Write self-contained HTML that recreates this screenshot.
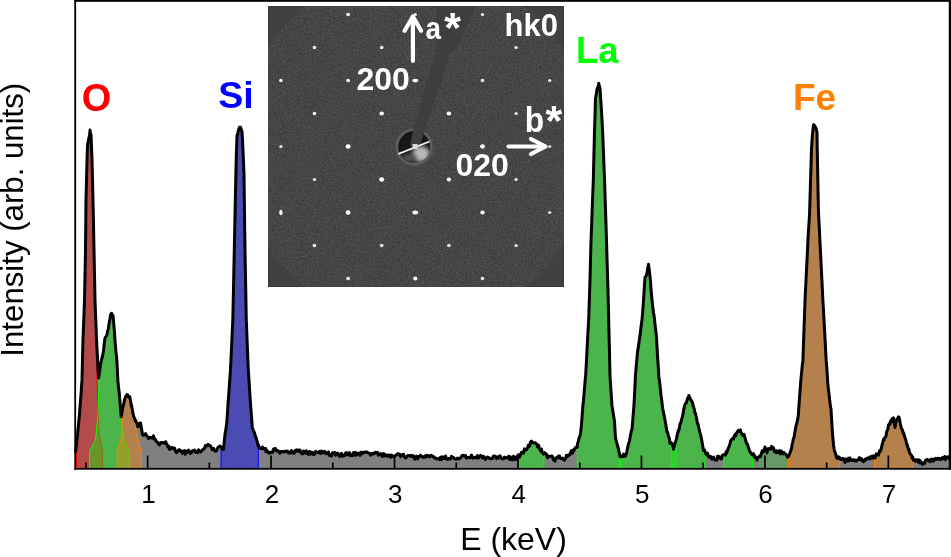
<!DOCTYPE html>
<html><head><meta charset="utf-8"><style>html,body{margin:0;padding:0;background:#fff;width:951px;height:557px;overflow:hidden}svg{display:block;will-change:transform}</style></head>
<body><svg width="951" height="557" viewBox="0 0 951 557" font-family="'Liberation Sans', sans-serif">
<defs>
<clipPath id="under"><path d="M75.5,452.5 L76.5,444.3 L77.5,435.2 L78.0,429.3 L78.5,424.6 L79.5,413.8 L80.5,400.4 L81.0,395.0 L81.5,386.6 L82.0,379.9 L82.5,359.1 L83.0,339.2 L83.5,326.5 L84.5,300.7 L85.5,249.2 L86.0,199.4 L86.5,180.3 L87.0,160.9 L87.5,145.2 L88.5,139.8 L89.5,135.0 L90.0,130.1 L90.5,133.7 L91.0,134.6 L91.5,146.8 L92.0,159.2 L92.5,179.6 L93.0,200.6 L93.5,224.4 L94.0,250.2 L94.5,275.3 L95.0,299.7 L95.5,313.4 L96.5,339.1 L97.5,359.1 L98.0,369.4 L98.5,376.1 L98.7,377.9 L99.5,371.4 L100.5,364.2 L101.5,360.0 L102.3,356.6 L102.5,356.4 L103.5,350.4 L104.5,341.5 L105.0,338.1 L105.5,337.1 L106.5,335.8 L107.0,334.5 L107.5,331.4 L108.5,328.4 L108.6,326.2 L109.5,321.1 L110.0,318.5 L110.5,315.3 L111.0,314.0 L111.5,313.3 L112.5,315.1 L113.0,315.5 L113.5,320.6 L114.0,326.8 L114.5,332.6 L115.0,340.4 L115.5,346.4 L115.8,350.2 L116.5,356.9 L117.0,362.7 L117.5,373.3 L117.9,380.7 L118.5,386.8 L119.5,395.2 L119.6,397.4 L120.5,407.5 L121.2,416.8 L121.5,415.4 L122.5,408.9 L123.3,405.2 L123.5,405.2 L124.5,400.0 L125.5,396.9 L126.5,395.3 L127.1,394.5 L127.5,394.7 L128.5,397.0 L129.5,396.5 L129.8,397.0 L130.5,400.8 L131.4,406.6 L131.5,405.0 L132.5,410.5 L133.0,413.2 L133.5,415.7 L134.5,418.6 L135.2,420.8 L135.5,419.9 L136.5,422.6 L137.3,424.4 L137.5,426.4 L138.5,426.7 L139.5,423.2 L140.5,422.9 L140.6,423.1 L141.5,428.4 L142.5,434.5 L143.5,435.3 L144.5,434.5 L145.5,433.6 L146.5,435.5 L146.8,435.7 L147.5,436.6 L148.5,438.5 L149.5,437.9 L150.5,437.3 L151.5,437.8 L152.5,438.2 L153.5,435.9 L154.5,439.2 L155.3,439.3 L155.5,440.1 L156.5,441.5 L157.5,442.3 L158.5,444.0 L158.7,443.1 L159.5,445.0 L160.5,442.8 L161.5,442.4 L162.5,442.9 L163.5,442.6 L164.5,443.2 L165.5,442.1 L165.6,441.7 L166.5,443.8 L167.5,445.5 L167.7,446.9 L168.5,445.8 L169.5,449.4 L170.5,449.1 L171.5,447.3 L172.5,447.7 L172.8,448.2 L173.5,448.6 L174.5,448.0 L175.5,451.3 L176.5,452.7 L177.5,451.1 L178.5,451.3 L179.0,449.8 L179.5,449.7 L180.5,450.9 L181.5,450.9 L182.5,453.4 L183.5,451.2 L184.5,450.5 L185.3,454.3 L185.5,453.1 L186.5,451.1 L187.5,452.2 L188.5,450.0 L189.5,451.6 L190.4,453.4 L190.5,453.3 L191.5,452.6 L192.5,450.7 L193.5,450.8 L194.5,450.0 L195.5,452.4 L196.5,451.8 L197.5,452.7 L197.9,451.0 L198.5,449.9 L199.5,451.5 L200.5,451.9 L201.5,450.9 L202.5,449.9 L203.5,449.3 L204.5,448.3 L205.4,445.6 L205.5,446.4 L206.5,446.0 L207.5,444.7 L208.5,444.6 L209.5,445.7 L210.5,445.8 L211.5,448.0 L212.5,449.8 L213.5,448.3 L214.5,450.4 L215.5,451.3 L216.5,450.9 L217.5,448.1 L218.5,446.8 L219.5,446.4 L220.0,446.1 L220.5,446.2 L221.5,448.0 L222.5,449.5 L223.5,449.2 L224.5,438.8 L225.0,434.3 L225.5,431.6 L226.5,424.7 L226.6,424.9 L227.5,412.1 L228.0,404.6 L228.5,397.7 L229.5,383.6 L230.5,369.4 L231.5,348.8 L232.5,326.2 L232.8,320.6 L233.5,288.3 L234.3,249.8 L234.5,239.8 L235.3,200.9 L235.5,191.6 L236.2,159.3 L236.5,150.3 L237.0,135.3 L237.5,134.6 L238.5,130.1 L239.5,127.3 L240.5,127.2 L241.5,130.5 L242.0,131.3 L242.5,140.2 L243.0,150.1 L243.5,161.8 L244.0,174.0 L244.5,213.4 L245.0,250.3 L245.5,277.0 L246.3,320.9 L246.5,324.9 L247.5,350.7 L248.3,370.7 L248.5,372.5 L249.5,388.0 L250.5,403.6 L251.5,416.5 L252.4,428.5 L252.5,428.3 L253.5,430.9 L254.5,432.6 L255.5,437.3 L255.7,436.5 L256.5,439.2 L257.5,442.9 L258.0,445.5 L258.5,444.9 L259.5,448.3 L260.4,448.3 L260.5,448.2 L261.5,448.7 L262.5,447.1 L263.5,449.0 L264.5,448.7 L265.5,448.3 L266.0,451.7 L266.5,449.9 L267.5,451.3 L268.5,453.1 L269.5,453.1 L270.0,452.3 L270.5,452.6 L271.5,452.1 L272.5,452.4 L273.5,449.1 L274.5,449.8 L275.0,448.4 L275.5,448.5 L276.5,451.0 L277.5,450.6 L278.5,451.1 L279.5,452.4 L280.0,453.3 L280.5,451.5 L281.5,451.9 L282.5,451.5 L283.5,451.4 L284.5,452.1 L285.5,451.1 L286.5,451.3 L287.5,451.1 L288.5,452.9 L289.5,452.1 L290.0,452.7 L290.5,453.1 L291.5,450.5 L292.5,451.4 L293.5,453.2 L294.5,453.1 L295.5,450.3 L296.5,449.9 L297.5,451.3 L298.5,450.0 L299.5,450.6 L300.0,450.1 L300.5,452.4 L301.5,453.3 L302.5,453.9 L303.5,451.0 L304.5,452.9 L305.5,453.0 L306.5,450.9 L307.5,453.6 L308.5,454.4 L309.5,451.5 L310.5,454.1 L311.5,452.2 L312.5,452.4 L313.5,454.5 L314.5,454.2 L315.5,451.4 L316.5,452.1 L317.5,452.6 L318.5,452.0 L319.5,451.3 L320.0,451.8 L320.5,453.5 L321.5,451.0 L322.5,452.9 L323.5,452.9 L324.5,451.2 L325.5,452.3 L326.5,453.8 L327.5,453.7 L328.5,451.9 L329.5,455.5 L330.5,455.3 L331.5,456.2 L332.5,452.8 L333.5,453.1 L334.5,452.3 L335.5,455.3 L336.5,453.8 L337.5,453.1 L338.5,454.3 L339.5,456.5 L340.0,456.5 L340.5,454.2 L341.5,453.4 L342.5,456.3 L343.5,455.3 L344.5,455.6 L345.5,453.1 L346.5,452.5 L347.5,454.9 L348.5,454.2 L349.5,452.6 L350.5,455.8 L351.5,455.0 L352.5,455.5 L353.5,452.6 L354.5,455.2 L355.5,452.3 L356.5,455.1 L357.5,453.8 L358.5,453.0 L359.5,453.8 L360.0,455.4 L360.5,452.9 L361.5,452.1 L362.5,453.6 L363.5,452.7 L364.5,452.1 L365.5,452.2 L366.5,451.9 L367.5,452.5 L368.5,453.1 L369.5,453.2 L370.5,455.1 L371.5,453.5 L372.5,454.2 L373.5,453.0 L374.5,453.5 L375.5,452.3 L376.5,453.1 L377.5,452.4 L378.5,455.2 L379.5,454.9 L380.5,453.5 L381.5,454.5 L382.5,456.5 L383.5,453.5 L384.5,456.0 L385.5,454.8 L386.5,455.0 L387.5,456.4 L388.5,454.9 L389.5,455.2 L390.0,456.0 L390.5,457.3 L391.5,455.0 L392.5,456.7 L393.5,456.5 L394.5,456.2 L395.5,455.3 L396.5,455.0 L397.5,453.8 L398.5,454.0 L399.5,453.9 L400.5,456.6 L401.5,455.1 L402.5,454.6 L403.5,454.3 L404.5,457.3 L405.5,458.0 L406.5,457.3 L407.5,455.7 L408.5,455.4 L409.5,455.6 L410.5,456.4 L411.5,455.3 L412.5,456.4 L413.5,455.9 L414.5,458.7 L415.0,459.2 L415.5,457.5 L416.5,456.1 L417.5,458.8 L418.5,456.6 L419.5,456.5 L420.5,455.1 L421.5,456.4 L422.5,457.0 L423.5,457.3 L424.5,456.1 L425.5,457.2 L426.5,455.4 L427.5,456.2 L428.5,455.6 L429.5,456.8 L430.5,455.6 L431.5,455.3 L432.5,456.5 L433.5,456.4 L434.5,457.9 L435.5,457.9 L436.5,458.8 L437.5,458.6 L438.5,458.8 L439.5,459.6 L440.0,457.7 L440.5,457.1 L441.5,459.7 L442.5,456.7 L443.5,458.5 L444.5,458.5 L445.5,456.0 L446.5,458.8 L447.5,459.4 L448.5,458.4 L449.5,458.7 L450.5,459.0 L451.5,456.3 L452.5,457.4 L453.5,457.5 L454.5,458.8 L455.5,458.9 L456.5,459.0 L457.5,458.0 L458.5,459.0 L459.5,458.3 L460.5,458.2 L461.5,456.3 L462.5,455.2 L463.5,455.4 L464.5,456.3 L465.5,455.4 L466.5,458.2 L467.5,457.5 L468.5,457.6 L469.5,457.6 L470.0,457.8 L470.5,457.1 L471.5,455.0 L472.5,458.0 L473.5,458.3 L474.5,457.3 L475.5,457.3 L476.5,457.9 L477.5,455.6 L478.5,458.0 L479.5,456.4 L480.5,455.4 L481.5,456.1 L482.5,458.1 L483.5,456.3 L484.5,458.2 L485.5,459.5 L486.5,457.8 L487.5,457.1 L488.5,457.4 L489.5,458.3 L490.5,458.8 L491.5,458.3 L492.5,458.4 L493.5,456.1 L494.5,456.1 L495.5,456.5 L496.5,458.6 L497.5,457.1 L498.5,458.0 L499.5,455.9 L500.0,455.8 L500.5,456.6 L501.5,458.4 L502.5,458.8 L503.5,458.7 L504.5,457.2 L505.5,457.9 L506.5,457.7 L507.5,457.7 L508.5,456.3 L509.5,459.3 L510.5,456.9 L511.5,459.7 L512.5,459.9 L513.5,456.2 L514.5,457.5 L515.0,459.1 L515.5,459.7 L516.5,457.3 L517.5,455.7 L518.5,454.8 L519.5,457.3 L520.0,454.5 L520.5,455.0 L521.5,452.2 L522.5,452.3 L523.5,453.1 L524.5,448.9 L525.0,450.6 L525.5,449.2 L526.5,449.6 L527.5,448.0 L528.5,445.0 L529.5,446.4 L530.0,444.6 L530.5,442.1 L531.5,441.1 L532.5,442.3 L533.5,443.0 L534.5,443.0 L535.5,442.8 L536.5,444.1 L537.0,444.4 L537.5,447.1 L538.5,445.2 L539.5,448.9 L540.5,450.8 L541.5,449.1 L542.0,452.5 L542.5,452.5 L543.5,454.1 L544.5,452.6 L545.5,453.4 L546.5,454.4 L547.5,457.7 L548.0,456.9 L548.5,456.0 L549.5,456.6 L550.5,456.4 L551.5,455.9 L552.5,456.5 L553.5,459.9 L554.5,458.6 L555.0,461.3 L555.5,458.5 L556.5,457.6 L557.5,457.9 L558.5,456.1 L559.5,456.0 L560.0,458.2 L560.5,458.4 L561.5,458.5 L562.5,458.1 L563.5,459.5 L564.5,460.2 L565.0,458.8 L565.5,458.8 L566.5,455.2 L567.5,456.6 L568.5,454.9 L569.5,455.1 L570.0,454.3 L570.5,452.5 L571.5,450.6 L572.5,453.3 L573.5,449.8 L574.0,450.5 L574.5,449.3 L575.5,447.5 L576.5,447.4 L577.0,447.5 L577.5,443.7 L578.5,440.9 L579.0,438.2 L579.5,437.2 L580.5,433.8 L581.5,424.1 L582.5,410.9 L583.0,404.4 L583.5,400.2 L584.5,388.0 L585.5,376.2 L585.6,376.4 L586.5,360.1 L587.0,349.9 L587.5,340.5 L588.5,322.9 L588.7,319.2 L589.5,295.1 L590.0,279.2 L590.5,260.4 L591.0,241.3 L591.5,228.0 L592.5,200.8 L593.3,180.5 L593.5,171.8 L594.4,135.4 L594.5,132.3 L595.5,98.8 L596.5,92.7 L597.0,89.1 L597.5,87.8 L598.5,85.6 L598.7,83.3 L599.5,86.5 L600.0,88.3 L600.5,96.5 L600.7,98.3 L601.5,111.4 L602.0,119.5 L602.5,129.5 L602.8,135.5 L603.5,153.8 L604.5,178.2 L604.6,180.7 L605.5,209.0 L606.5,240.9 L607.5,274.4 L608.0,290.8 L608.5,311.4 L608.7,320.2 L609.5,353.2 L610.0,375.4 L610.5,383.8 L611.5,398.3 L612.0,405.7 L612.5,409.1 L613.5,414.9 L614.5,421.3 L615.5,438.0 L616.5,441.8 L617.5,445.4 L618.5,449.4 L619.5,453.8 L620.0,456.1 L620.5,457.0 L621.5,456.5 L622.5,456.4 L623.5,454.1 L624.5,456.5 L625.0,454.5 L625.5,456.1 L626.5,453.3 L627.0,451.2 L627.5,448.2 L628.5,443.8 L629.0,442.7 L629.5,440.8 L630.5,434.8 L631.5,430.6 L632.0,429.2 L632.5,423.4 L633.5,410.9 L634.0,404.4 L634.5,395.4 L635.5,374.6 L636.5,363.4 L637.5,351.9 L638.5,346.1 L639.5,338.7 L640.0,335.8 L640.5,331.2 L641.5,323.2 L642.0,319.5 L642.5,314.3 L643.5,300.4 L644.5,284.9 L645.0,277.0 L645.5,277.0 L646.5,275.3 L647.5,269.7 L648.5,264.3 L649.5,271.9 L650.0,275.9 L650.5,282.0 L651.0,289.1 L651.5,294.7 L652.5,304.8 L653.5,312.5 L654.5,318.7 L654.6,320.6 L655.5,328.4 L656.3,335.0 L656.5,337.7 L657.5,355.4 L658.5,370.4 L658.8,376.2 L659.5,381.2 L660.5,390.0 L661.0,395.5 L661.5,398.3 L662.5,407.0 L663.0,410.1 L663.5,412.1 L664.5,417.3 L665.5,422.9 L666.5,428.8 L667.0,432.4 L667.5,432.0 L668.5,436.1 L669.5,439.3 L670.0,443.2 L670.5,442.1 L671.5,443.0 L672.5,444.8 L673.3,447.8 L673.5,449.2 L674.5,445.2 L675.0,442.9 L675.5,441.9 L676.5,438.6 L677.5,433.6 L678.3,430.4 L678.5,431.7 L679.5,427.7 L680.0,423.8 L680.5,423.7 L681.5,419.9 L682.4,417.0 L682.5,416.4 L683.5,411.1 L684.5,405.8 L685.0,404.6 L685.5,403.5 L686.5,402.4 L687.5,398.3 L688.5,397.6 L688.8,395.4 L689.5,396.8 L690.5,399.4 L691.3,400.6 L691.5,400.5 L692.5,402.9 L693.5,406.7 L694.5,409.7 L694.7,412.0 L695.5,413.5 L696.5,418.0 L697.5,423.9 L698.0,423.8 L698.5,426.3 L699.5,431.0 L700.5,434.5 L701.5,439.1 L702.5,444.5 L703.0,447.5 L703.5,450.6 L704.5,449.9 L705.5,452.8 L706.5,454.8 L707.5,453.8 L707.6,453.3 L708.5,456.9 L709.5,456.9 L710.5,456.3 L711.5,459.0 L712.5,458.6 L712.8,458.5 L713.5,457.1 L714.5,459.6 L715.5,460.3 L716.5,459.0 L717.0,459.9 L717.5,456.2 L718.5,456.2 L719.5,457.0 L720.5,458.8 L721.5,458.9 L722.0,456.5 L722.5,455.1 L723.5,454.8 L724.5,454.2 L725.5,455.1 L726.4,451.5 L726.5,453.3 L727.5,450.4 L728.5,447.9 L729.5,445.2 L730.4,442.4 L730.5,441.1 L731.5,439.6 L732.5,438.5 L733.5,438.9 L734.5,435.1 L735.5,433.9 L735.8,435.8 L736.5,433.4 L737.5,431.5 L738.5,430.3 L739.5,431.5 L740.5,429.9 L740.9,432.2 L741.5,433.2 L742.5,435.4 L743.5,434.6 L743.9,434.4 L744.5,436.0 L745.5,439.8 L746.5,443.3 L746.6,442.9 L747.5,444.5 L748.5,447.4 L749.3,450.2 L749.5,450.8 L750.5,452.4 L751.5,454.1 L752.5,454.6 L753.5,453.5 L754.0,456.7 L754.5,455.5 L755.5,457.5 L756.5,458.1 L757.0,460.1 L757.5,457.8 L758.5,457.1 L759.5,456.4 L760.0,455.7 L760.5,456.8 L761.5,453.5 L762.0,451.3 L762.5,450.6 L763.5,451.8 L764.5,448.9 L765.0,447.0 L765.5,449.8 L766.5,450.9 L767.0,452.9 L767.5,448.9 L768.5,448.6 L769.5,448.9 L770.0,448.6 L770.5,449.3 L771.5,446.4 L772.5,447.6 L773.0,447.3 L773.5,447.8 L774.5,451.6 L775.5,451.1 L776.0,452.6 L776.5,450.7 L777.5,452.6 L778.5,451.4 L779.5,450.6 L780.0,452.7 L780.5,453.9 L781.5,451.1 L782.5,453.1 L783.5,453.9 L784.0,452.5 L784.5,453.5 L785.5,453.9 L786.5,455.2 L787.0,456.1 L787.5,457.1 L788.5,456.6 L789.5,453.9 L790.0,452.9 L790.5,451.6 L791.5,448.5 L792.0,445.2 L792.5,443.0 L793.5,438.1 L794.0,437.5 L794.5,434.7 L795.5,428.6 L796.4,424.3 L796.5,424.6 L797.5,419.9 L798.3,415.9 L798.5,412.2 L799.5,398.2 L800.5,385.2 L800.8,380.4 L801.5,373.3 L802.5,363.5 L802.9,360.9 L803.5,343.0 L804.5,315.8 L805.2,296.0 L805.5,290.0 L806.5,270.3 L807.5,250.1 L808.0,238.5 L808.5,230.3 L809.5,215.5 L810.5,181.7 L811.5,148.7 L811.6,147.2 L812.5,133.6 L812.6,133.0 L813.5,125.2 L813.7,124.6 L814.5,125.6 L815.5,127.3 L816.5,130.0 L817.0,132.5 L817.2,146.7 L817.5,163.1 L818.4,209.2 L818.5,212.3 L819.5,232.4 L819.8,238.8 L820.5,252.0 L821.5,272.1 L822.5,292.4 L822.7,297.2 L823.5,310.1 L824.5,329.0 L825.5,347.9 L826.2,360.9 L826.5,363.8 L827.5,378.4 L827.6,381.5 L828.5,390.0 L829.5,398.4 L830.2,404.1 L830.5,407.1 L831.0,408.9 L831.5,417.9 L832.5,433.9 L833.5,444.5 L834.0,448.5 L834.5,451.1 L835.5,453.2 L836.0,455.2 L836.5,457.4 L837.5,458.6 L838.5,456.9 L839.5,457.6 L840.0,458.8 L840.5,459.5 L841.5,459.3 L842.5,458.4 L843.5,459.0 L844.5,461.3 L845.0,462.4 L845.5,459.0 L846.5,460.3 L847.5,461.1 L848.5,458.1 L849.5,460.7 L850.0,458.0 L850.5,459.7 L851.5,460.0 L852.5,460.6 L853.5,459.6 L854.5,460.1 L855.0,461.0 L855.5,460.3 L856.5,460.9 L857.5,459.9 L858.5,459.5 L859.5,457.5 L860.0,459.6 L860.5,459.5 L861.5,458.7 L862.5,461.0 L863.5,461.6 L864.5,460.6 L865.0,459.4 L865.5,460.2 L866.5,458.5 L867.5,458.0 L868.5,458.8 L869.5,457.2 L870.0,458.3 L870.5,458.6 L871.5,456.3 L872.5,458.1 L873.5,455.7 L874.5,457.7 L875.0,458.0 L875.5,456.6 L876.5,453.8 L877.5,454.5 L878.0,453.8 L878.5,455.3 L879.5,450.7 L880.5,451.2 L881.5,447.7 L882.0,444.9 L882.5,443.7 L883.5,439.4 L884.0,440.1 L884.5,438.0 L885.5,437.2 L886.0,436.3 L886.5,432.2 L887.5,429.8 L888.0,428.5 L888.5,425.1 L889.5,423.5 L890.0,424.2 L890.5,421.1 L891.5,421.8 L892.0,418.7 L892.5,420.3 L893.5,417.8 L894.5,423.3 L895.0,427.5 L895.5,423.3 L896.5,420.2 L897.0,419.3 L897.5,418.5 L898.5,416.9 L899.0,417.1 L899.5,419.3 L900.5,425.1 L901.0,426.5 L901.5,428.7 L902.5,429.9 L903.0,433.0 L903.5,432.6 L904.5,436.1 L905.0,437.9 L905.5,438.8 L906.5,443.4 L907.0,444.3 L907.5,445.9 L908.5,449.9 L909.0,449.4 L909.5,452.7 L910.5,454.2 L911.5,455.4 L912.0,458.0 L912.5,456.6 L913.5,460.3 L914.5,460.1 L915.0,459.6 L915.5,461.3 L916.5,460.6 L917.5,459.7 L918.5,462.2 L919.5,460.1 L920.0,463.0 L920.5,461.2 L921.5,462.7 L922.5,464.4 L923.5,463.1 L924.5,463.4 L925.0,462.1 L925.5,460.3 L926.5,459.7 L927.5,459.6 L928.5,461.0 L929.5,460.0 L930.0,460.0 L930.5,461.7 L931.5,459.1 L932.5,459.3 L933.5,461.2 L934.5,459.1 L935.5,458.4 L936.5,459.5 L937.5,458.4 L938.5,459.0 L939.5,458.3 L940.5,459.4 L941.5,459.3 L942.5,457.5 L943.5,458.7 L944.5,458.0 L944.8,456.5 L945.5,459.7 L946.5,457.5 L947.5,456.9 L948.5,456.7 L949.5,459.0 L950.5,460.5 L951.0,460.4 L951,468.5 L75.5,468.5 Z"/></clipPath>
<clipPath id="insetclip"><rect x="268" y="6" width="296" height="281"/></clipPath>
<clipPath id="circclip"><circle cx="415" cy="146.5" r="178"/></clipPath>
<filter id="noise" x="0" y="0" width="100%" height="100%" color-interpolation-filters="sRGB">
 <feTurbulence type="fractalNoise" baseFrequency="0.75" numOctaves="2" seed="4"/>
 <feColorMatrix type="matrix" values="0.22 0 0 0 0.1645 0.22 0 0 0 0.1645 0.22 0 0 0 0.1645 0 0 0 0 1"/>
 <feGaussianBlur stdDeviation="0.35"/>
</filter>
<filter id="blur1" x="-1" y="-1" width="3" height="3"><feGaussianBlur stdDeviation="0.6"/></filter>
<filter id="blur2" x="-1" y="-1" width="3" height="3"><feGaussianBlur stdDeviation="2"/></filter>
</defs>
<rect width="951" height="557" fill="#fff"/>
<path d="M75.5,452.5 L76.5,444.3 L77.5,435.2 L78.0,429.3 L78.5,424.6 L79.5,413.8 L80.5,400.4 L81.0,395.0 L81.5,386.6 L82.0,379.9 L82.5,359.1 L83.0,339.2 L83.5,326.5 L84.5,300.7 L85.5,249.2 L86.0,199.4 L86.5,180.3 L87.0,160.9 L87.5,145.2 L88.5,139.8 L89.5,135.0 L90.0,130.1 L90.5,133.7 L91.0,134.6 L91.5,146.8 L92.0,159.2 L92.5,179.6 L93.0,200.6 L93.5,224.4 L94.0,250.2 L94.5,275.3 L95.0,299.7 L95.5,313.4 L96.5,339.1 L97.5,359.1 L98.0,369.4 L98.5,376.1 L98.7,377.9 L99.5,371.4 L100.5,364.2 L101.5,360.0 L102.3,356.6 L102.5,356.4 L103.5,350.4 L104.5,341.5 L105.0,338.1 L105.5,337.1 L106.5,335.8 L107.0,334.5 L107.5,331.4 L108.5,328.4 L108.6,326.2 L109.5,321.1 L110.0,318.5 L110.5,315.3 L111.0,314.0 L111.5,313.3 L112.5,315.1 L113.0,315.5 L113.5,320.6 L114.0,326.8 L114.5,332.6 L115.0,340.4 L115.5,346.4 L115.8,350.2 L116.5,356.9 L117.0,362.7 L117.5,373.3 L117.9,380.7 L118.5,386.8 L119.5,395.2 L119.6,397.4 L120.5,407.5 L121.2,416.8 L121.5,415.4 L122.5,408.9 L123.3,405.2 L123.5,405.2 L124.5,400.0 L125.5,396.9 L126.5,395.3 L127.1,394.5 L127.5,394.7 L128.5,397.0 L129.5,396.5 L129.8,397.0 L130.5,400.8 L131.4,406.6 L131.5,405.0 L132.5,410.5 L133.0,413.2 L133.5,415.7 L134.5,418.6 L135.2,420.8 L135.5,419.9 L136.5,422.6 L137.3,424.4 L137.5,426.4 L138.5,426.7 L139.5,423.2 L140.5,422.9 L140.6,423.1 L141.5,428.4 L142.5,434.5 L143.5,435.3 L144.5,434.5 L145.5,433.6 L146.5,435.5 L146.8,435.7 L147.5,436.6 L148.5,438.5 L149.5,437.9 L150.5,437.3 L151.5,437.8 L152.5,438.2 L153.5,435.9 L154.5,439.2 L155.3,439.3 L155.5,440.1 L156.5,441.5 L157.5,442.3 L158.5,444.0 L158.7,443.1 L159.5,445.0 L160.5,442.8 L161.5,442.4 L162.5,442.9 L163.5,442.6 L164.5,443.2 L165.5,442.1 L165.6,441.7 L166.5,443.8 L167.5,445.5 L167.7,446.9 L168.5,445.8 L169.5,449.4 L170.5,449.1 L171.5,447.3 L172.5,447.7 L172.8,448.2 L173.5,448.6 L174.5,448.0 L175.5,451.3 L176.5,452.7 L177.5,451.1 L178.5,451.3 L179.0,449.8 L179.5,449.7 L180.5,450.9 L181.5,450.9 L182.5,453.4 L183.5,451.2 L184.5,450.5 L185.3,454.3 L185.5,453.1 L186.5,451.1 L187.5,452.2 L188.5,450.0 L189.5,451.6 L190.4,453.4 L190.5,453.3 L191.5,452.6 L192.5,450.7 L193.5,450.8 L194.5,450.0 L195.5,452.4 L196.5,451.8 L197.5,452.7 L197.9,451.0 L198.5,449.9 L199.5,451.5 L200.5,451.9 L201.5,450.9 L202.5,449.9 L203.5,449.3 L204.5,448.3 L205.4,445.6 L205.5,446.4 L206.5,446.0 L207.5,444.7 L208.5,444.6 L209.5,445.7 L210.5,445.8 L211.5,448.0 L212.5,449.8 L213.5,448.3 L214.5,450.4 L215.5,451.3 L216.5,450.9 L217.5,448.1 L218.5,446.8 L219.5,446.4 L220.0,446.1 L220.5,446.2 L221.5,448.0 L222.5,449.5 L223.5,449.2 L224.5,438.8 L225.0,434.3 L225.5,431.6 L226.5,424.7 L226.6,424.9 L227.5,412.1 L228.0,404.6 L228.5,397.7 L229.5,383.6 L230.5,369.4 L231.5,348.8 L232.5,326.2 L232.8,320.6 L233.5,288.3 L234.3,249.8 L234.5,239.8 L235.3,200.9 L235.5,191.6 L236.2,159.3 L236.5,150.3 L237.0,135.3 L237.5,134.6 L238.5,130.1 L239.5,127.3 L240.5,127.2 L241.5,130.5 L242.0,131.3 L242.5,140.2 L243.0,150.1 L243.5,161.8 L244.0,174.0 L244.5,213.4 L245.0,250.3 L245.5,277.0 L246.3,320.9 L246.5,324.9 L247.5,350.7 L248.3,370.7 L248.5,372.5 L249.5,388.0 L250.5,403.6 L251.5,416.5 L252.4,428.5 L252.5,428.3 L253.5,430.9 L254.5,432.6 L255.5,437.3 L255.7,436.5 L256.5,439.2 L257.5,442.9 L258.0,445.5 L258.5,444.9 L259.5,448.3 L260.4,448.3 L260.5,448.2 L261.5,448.7 L262.5,447.1 L263.5,449.0 L264.5,448.7 L265.5,448.3 L266.0,451.7 L266.5,449.9 L267.5,451.3 L268.5,453.1 L269.5,453.1 L270.0,452.3 L270.5,452.6 L271.5,452.1 L272.5,452.4 L273.5,449.1 L274.5,449.8 L275.0,448.4 L275.5,448.5 L276.5,451.0 L277.5,450.6 L278.5,451.1 L279.5,452.4 L280.0,453.3 L280.5,451.5 L281.5,451.9 L282.5,451.5 L283.5,451.4 L284.5,452.1 L285.5,451.1 L286.5,451.3 L287.5,451.1 L288.5,452.9 L289.5,452.1 L290.0,452.7 L290.5,453.1 L291.5,450.5 L292.5,451.4 L293.5,453.2 L294.5,453.1 L295.5,450.3 L296.5,449.9 L297.5,451.3 L298.5,450.0 L299.5,450.6 L300.0,450.1 L300.5,452.4 L301.5,453.3 L302.5,453.9 L303.5,451.0 L304.5,452.9 L305.5,453.0 L306.5,450.9 L307.5,453.6 L308.5,454.4 L309.5,451.5 L310.5,454.1 L311.5,452.2 L312.5,452.4 L313.5,454.5 L314.5,454.2 L315.5,451.4 L316.5,452.1 L317.5,452.6 L318.5,452.0 L319.5,451.3 L320.0,451.8 L320.5,453.5 L321.5,451.0 L322.5,452.9 L323.5,452.9 L324.5,451.2 L325.5,452.3 L326.5,453.8 L327.5,453.7 L328.5,451.9 L329.5,455.5 L330.5,455.3 L331.5,456.2 L332.5,452.8 L333.5,453.1 L334.5,452.3 L335.5,455.3 L336.5,453.8 L337.5,453.1 L338.5,454.3 L339.5,456.5 L340.0,456.5 L340.5,454.2 L341.5,453.4 L342.5,456.3 L343.5,455.3 L344.5,455.6 L345.5,453.1 L346.5,452.5 L347.5,454.9 L348.5,454.2 L349.5,452.6 L350.5,455.8 L351.5,455.0 L352.5,455.5 L353.5,452.6 L354.5,455.2 L355.5,452.3 L356.5,455.1 L357.5,453.8 L358.5,453.0 L359.5,453.8 L360.0,455.4 L360.5,452.9 L361.5,452.1 L362.5,453.6 L363.5,452.7 L364.5,452.1 L365.5,452.2 L366.5,451.9 L367.5,452.5 L368.5,453.1 L369.5,453.2 L370.5,455.1 L371.5,453.5 L372.5,454.2 L373.5,453.0 L374.5,453.5 L375.5,452.3 L376.5,453.1 L377.5,452.4 L378.5,455.2 L379.5,454.9 L380.5,453.5 L381.5,454.5 L382.5,456.5 L383.5,453.5 L384.5,456.0 L385.5,454.8 L386.5,455.0 L387.5,456.4 L388.5,454.9 L389.5,455.2 L390.0,456.0 L390.5,457.3 L391.5,455.0 L392.5,456.7 L393.5,456.5 L394.5,456.2 L395.5,455.3 L396.5,455.0 L397.5,453.8 L398.5,454.0 L399.5,453.9 L400.5,456.6 L401.5,455.1 L402.5,454.6 L403.5,454.3 L404.5,457.3 L405.5,458.0 L406.5,457.3 L407.5,455.7 L408.5,455.4 L409.5,455.6 L410.5,456.4 L411.5,455.3 L412.5,456.4 L413.5,455.9 L414.5,458.7 L415.0,459.2 L415.5,457.5 L416.5,456.1 L417.5,458.8 L418.5,456.6 L419.5,456.5 L420.5,455.1 L421.5,456.4 L422.5,457.0 L423.5,457.3 L424.5,456.1 L425.5,457.2 L426.5,455.4 L427.5,456.2 L428.5,455.6 L429.5,456.8 L430.5,455.6 L431.5,455.3 L432.5,456.5 L433.5,456.4 L434.5,457.9 L435.5,457.9 L436.5,458.8 L437.5,458.6 L438.5,458.8 L439.5,459.6 L440.0,457.7 L440.5,457.1 L441.5,459.7 L442.5,456.7 L443.5,458.5 L444.5,458.5 L445.5,456.0 L446.5,458.8 L447.5,459.4 L448.5,458.4 L449.5,458.7 L450.5,459.0 L451.5,456.3 L452.5,457.4 L453.5,457.5 L454.5,458.8 L455.5,458.9 L456.5,459.0 L457.5,458.0 L458.5,459.0 L459.5,458.3 L460.5,458.2 L461.5,456.3 L462.5,455.2 L463.5,455.4 L464.5,456.3 L465.5,455.4 L466.5,458.2 L467.5,457.5 L468.5,457.6 L469.5,457.6 L470.0,457.8 L470.5,457.1 L471.5,455.0 L472.5,458.0 L473.5,458.3 L474.5,457.3 L475.5,457.3 L476.5,457.9 L477.5,455.6 L478.5,458.0 L479.5,456.4 L480.5,455.4 L481.5,456.1 L482.5,458.1 L483.5,456.3 L484.5,458.2 L485.5,459.5 L486.5,457.8 L487.5,457.1 L488.5,457.4 L489.5,458.3 L490.5,458.8 L491.5,458.3 L492.5,458.4 L493.5,456.1 L494.5,456.1 L495.5,456.5 L496.5,458.6 L497.5,457.1 L498.5,458.0 L499.5,455.9 L500.0,455.8 L500.5,456.6 L501.5,458.4 L502.5,458.8 L503.5,458.7 L504.5,457.2 L505.5,457.9 L506.5,457.7 L507.5,457.7 L508.5,456.3 L509.5,459.3 L510.5,456.9 L511.5,459.7 L512.5,459.9 L513.5,456.2 L514.5,457.5 L515.0,459.1 L515.5,459.7 L516.5,457.3 L517.5,455.7 L518.5,454.8 L519.5,457.3 L520.0,454.5 L520.5,455.0 L521.5,452.2 L522.5,452.3 L523.5,453.1 L524.5,448.9 L525.0,450.6 L525.5,449.2 L526.5,449.6 L527.5,448.0 L528.5,445.0 L529.5,446.4 L530.0,444.6 L530.5,442.1 L531.5,441.1 L532.5,442.3 L533.5,443.0 L534.5,443.0 L535.5,442.8 L536.5,444.1 L537.0,444.4 L537.5,447.1 L538.5,445.2 L539.5,448.9 L540.5,450.8 L541.5,449.1 L542.0,452.5 L542.5,452.5 L543.5,454.1 L544.5,452.6 L545.5,453.4 L546.5,454.4 L547.5,457.7 L548.0,456.9 L548.5,456.0 L549.5,456.6 L550.5,456.4 L551.5,455.9 L552.5,456.5 L553.5,459.9 L554.5,458.6 L555.0,461.3 L555.5,458.5 L556.5,457.6 L557.5,457.9 L558.5,456.1 L559.5,456.0 L560.0,458.2 L560.5,458.4 L561.5,458.5 L562.5,458.1 L563.5,459.5 L564.5,460.2 L565.0,458.8 L565.5,458.8 L566.5,455.2 L567.5,456.6 L568.5,454.9 L569.5,455.1 L570.0,454.3 L570.5,452.5 L571.5,450.6 L572.5,453.3 L573.5,449.8 L574.0,450.5 L574.5,449.3 L575.5,447.5 L576.5,447.4 L577.0,447.5 L577.5,443.7 L578.5,440.9 L579.0,438.2 L579.5,437.2 L580.5,433.8 L581.5,424.1 L582.5,410.9 L583.0,404.4 L583.5,400.2 L584.5,388.0 L585.5,376.2 L585.6,376.4 L586.5,360.1 L587.0,349.9 L587.5,340.5 L588.5,322.9 L588.7,319.2 L589.5,295.1 L590.0,279.2 L590.5,260.4 L591.0,241.3 L591.5,228.0 L592.5,200.8 L593.3,180.5 L593.5,171.8 L594.4,135.4 L594.5,132.3 L595.5,98.8 L596.5,92.7 L597.0,89.1 L597.5,87.8 L598.5,85.6 L598.7,83.3 L599.5,86.5 L600.0,88.3 L600.5,96.5 L600.7,98.3 L601.5,111.4 L602.0,119.5 L602.5,129.5 L602.8,135.5 L603.5,153.8 L604.5,178.2 L604.6,180.7 L605.5,209.0 L606.5,240.9 L607.5,274.4 L608.0,290.8 L608.5,311.4 L608.7,320.2 L609.5,353.2 L610.0,375.4 L610.5,383.8 L611.5,398.3 L612.0,405.7 L612.5,409.1 L613.5,414.9 L614.5,421.3 L615.5,438.0 L616.5,441.8 L617.5,445.4 L618.5,449.4 L619.5,453.8 L620.0,456.1 L620.5,457.0 L621.5,456.5 L622.5,456.4 L623.5,454.1 L624.5,456.5 L625.0,454.5 L625.5,456.1 L626.5,453.3 L627.0,451.2 L627.5,448.2 L628.5,443.8 L629.0,442.7 L629.5,440.8 L630.5,434.8 L631.5,430.6 L632.0,429.2 L632.5,423.4 L633.5,410.9 L634.0,404.4 L634.5,395.4 L635.5,374.6 L636.5,363.4 L637.5,351.9 L638.5,346.1 L639.5,338.7 L640.0,335.8 L640.5,331.2 L641.5,323.2 L642.0,319.5 L642.5,314.3 L643.5,300.4 L644.5,284.9 L645.0,277.0 L645.5,277.0 L646.5,275.3 L647.5,269.7 L648.5,264.3 L649.5,271.9 L650.0,275.9 L650.5,282.0 L651.0,289.1 L651.5,294.7 L652.5,304.8 L653.5,312.5 L654.5,318.7 L654.6,320.6 L655.5,328.4 L656.3,335.0 L656.5,337.7 L657.5,355.4 L658.5,370.4 L658.8,376.2 L659.5,381.2 L660.5,390.0 L661.0,395.5 L661.5,398.3 L662.5,407.0 L663.0,410.1 L663.5,412.1 L664.5,417.3 L665.5,422.9 L666.5,428.8 L667.0,432.4 L667.5,432.0 L668.5,436.1 L669.5,439.3 L670.0,443.2 L670.5,442.1 L671.5,443.0 L672.5,444.8 L673.3,447.8 L673.5,449.2 L674.5,445.2 L675.0,442.9 L675.5,441.9 L676.5,438.6 L677.5,433.6 L678.3,430.4 L678.5,431.7 L679.5,427.7 L680.0,423.8 L680.5,423.7 L681.5,419.9 L682.4,417.0 L682.5,416.4 L683.5,411.1 L684.5,405.8 L685.0,404.6 L685.5,403.5 L686.5,402.4 L687.5,398.3 L688.5,397.6 L688.8,395.4 L689.5,396.8 L690.5,399.4 L691.3,400.6 L691.5,400.5 L692.5,402.9 L693.5,406.7 L694.5,409.7 L694.7,412.0 L695.5,413.5 L696.5,418.0 L697.5,423.9 L698.0,423.8 L698.5,426.3 L699.5,431.0 L700.5,434.5 L701.5,439.1 L702.5,444.5 L703.0,447.5 L703.5,450.6 L704.5,449.9 L705.5,452.8 L706.5,454.8 L707.5,453.8 L707.6,453.3 L708.5,456.9 L709.5,456.9 L710.5,456.3 L711.5,459.0 L712.5,458.6 L712.8,458.5 L713.5,457.1 L714.5,459.6 L715.5,460.3 L716.5,459.0 L717.0,459.9 L717.5,456.2 L718.5,456.2 L719.5,457.0 L720.5,458.8 L721.5,458.9 L722.0,456.5 L722.5,455.1 L723.5,454.8 L724.5,454.2 L725.5,455.1 L726.4,451.5 L726.5,453.3 L727.5,450.4 L728.5,447.9 L729.5,445.2 L730.4,442.4 L730.5,441.1 L731.5,439.6 L732.5,438.5 L733.5,438.9 L734.5,435.1 L735.5,433.9 L735.8,435.8 L736.5,433.4 L737.5,431.5 L738.5,430.3 L739.5,431.5 L740.5,429.9 L740.9,432.2 L741.5,433.2 L742.5,435.4 L743.5,434.6 L743.9,434.4 L744.5,436.0 L745.5,439.8 L746.5,443.3 L746.6,442.9 L747.5,444.5 L748.5,447.4 L749.3,450.2 L749.5,450.8 L750.5,452.4 L751.5,454.1 L752.5,454.6 L753.5,453.5 L754.0,456.7 L754.5,455.5 L755.5,457.5 L756.5,458.1 L757.0,460.1 L757.5,457.8 L758.5,457.1 L759.5,456.4 L760.0,455.7 L760.5,456.8 L761.5,453.5 L762.0,451.3 L762.5,450.6 L763.5,451.8 L764.5,448.9 L765.0,447.0 L765.5,449.8 L766.5,450.9 L767.0,452.9 L767.5,448.9 L768.5,448.6 L769.5,448.9 L770.0,448.6 L770.5,449.3 L771.5,446.4 L772.5,447.6 L773.0,447.3 L773.5,447.8 L774.5,451.6 L775.5,451.1 L776.0,452.6 L776.5,450.7 L777.5,452.6 L778.5,451.4 L779.5,450.6 L780.0,452.7 L780.5,453.9 L781.5,451.1 L782.5,453.1 L783.5,453.9 L784.0,452.5 L784.5,453.5 L785.5,453.9 L786.5,455.2 L787.0,456.1 L787.5,457.1 L788.5,456.6 L789.5,453.9 L790.0,452.9 L790.5,451.6 L791.5,448.5 L792.0,445.2 L792.5,443.0 L793.5,438.1 L794.0,437.5 L794.5,434.7 L795.5,428.6 L796.4,424.3 L796.5,424.6 L797.5,419.9 L798.3,415.9 L798.5,412.2 L799.5,398.2 L800.5,385.2 L800.8,380.4 L801.5,373.3 L802.5,363.5 L802.9,360.9 L803.5,343.0 L804.5,315.8 L805.2,296.0 L805.5,290.0 L806.5,270.3 L807.5,250.1 L808.0,238.5 L808.5,230.3 L809.5,215.5 L810.5,181.7 L811.5,148.7 L811.6,147.2 L812.5,133.6 L812.6,133.0 L813.5,125.2 L813.7,124.6 L814.5,125.6 L815.5,127.3 L816.5,130.0 L817.0,132.5 L817.2,146.7 L817.5,163.1 L818.4,209.2 L818.5,212.3 L819.5,232.4 L819.8,238.8 L820.5,252.0 L821.5,272.1 L822.5,292.4 L822.7,297.2 L823.5,310.1 L824.5,329.0 L825.5,347.9 L826.2,360.9 L826.5,363.8 L827.5,378.4 L827.6,381.5 L828.5,390.0 L829.5,398.4 L830.2,404.1 L830.5,407.1 L831.0,408.9 L831.5,417.9 L832.5,433.9 L833.5,444.5 L834.0,448.5 L834.5,451.1 L835.5,453.2 L836.0,455.2 L836.5,457.4 L837.5,458.6 L838.5,456.9 L839.5,457.6 L840.0,458.8 L840.5,459.5 L841.5,459.3 L842.5,458.4 L843.5,459.0 L844.5,461.3 L845.0,462.4 L845.5,459.0 L846.5,460.3 L847.5,461.1 L848.5,458.1 L849.5,460.7 L850.0,458.0 L850.5,459.7 L851.5,460.0 L852.5,460.6 L853.5,459.6 L854.5,460.1 L855.0,461.0 L855.5,460.3 L856.5,460.9 L857.5,459.9 L858.5,459.5 L859.5,457.5 L860.0,459.6 L860.5,459.5 L861.5,458.7 L862.5,461.0 L863.5,461.6 L864.5,460.6 L865.0,459.4 L865.5,460.2 L866.5,458.5 L867.5,458.0 L868.5,458.8 L869.5,457.2 L870.0,458.3 L870.5,458.6 L871.5,456.3 L872.5,458.1 L873.5,455.7 L874.5,457.7 L875.0,458.0 L875.5,456.6 L876.5,453.8 L877.5,454.5 L878.0,453.8 L878.5,455.3 L879.5,450.7 L880.5,451.2 L881.5,447.7 L882.0,444.9 L882.5,443.7 L883.5,439.4 L884.0,440.1 L884.5,438.0 L885.5,437.2 L886.0,436.3 L886.5,432.2 L887.5,429.8 L888.0,428.5 L888.5,425.1 L889.5,423.5 L890.0,424.2 L890.5,421.1 L891.5,421.8 L892.0,418.7 L892.5,420.3 L893.5,417.8 L894.5,423.3 L895.0,427.5 L895.5,423.3 L896.5,420.2 L897.0,419.3 L897.5,418.5 L898.5,416.9 L899.0,417.1 L899.5,419.3 L900.5,425.1 L901.0,426.5 L901.5,428.7 L902.5,429.9 L903.0,433.0 L903.5,432.6 L904.5,436.1 L905.0,437.9 L905.5,438.8 L906.5,443.4 L907.0,444.3 L907.5,445.9 L908.5,449.9 L909.0,449.4 L909.5,452.7 L910.5,454.2 L911.5,455.4 L912.0,458.0 L912.5,456.6 L913.5,460.3 L914.5,460.1 L915.0,459.6 L915.5,461.3 L916.5,460.6 L917.5,459.7 L918.5,462.2 L919.5,460.1 L920.0,463.0 L920.5,461.2 L921.5,462.7 L922.5,464.4 L923.5,463.1 L924.5,463.4 L925.0,462.1 L925.5,460.3 L926.5,459.7 L927.5,459.6 L928.5,461.0 L929.5,460.0 L930.0,460.0 L930.5,461.7 L931.5,459.1 L932.5,459.3 L933.5,461.2 L934.5,459.1 L935.5,458.4 L936.5,459.5 L937.5,458.4 L938.5,459.0 L939.5,458.3 L940.5,459.4 L941.5,459.3 L942.5,457.5 L943.5,458.7 L944.5,458.0 L944.8,456.5 L945.5,459.7 L946.5,457.5 L947.5,456.9 L948.5,456.7 L949.5,459.0 L950.5,460.5 L951.0,460.4 L951,468.5 L75.5,468.5 Z" fill="#808080"/>
<g clip-path="url(#under)">
<rect x="221" y="-5" width="37.30000000000001" height="485" fill="#0000ff" fill-opacity="0.41" stroke="#0000ff" stroke-width="1"/><rect x="519.4" y="-5" width="24.399999999999977" height="485" fill="#00ff00" fill-opacity="0.41" stroke="#00ff00" stroke-width="1"/><rect x="577.3" y="-5" width="42.200000000000045" height="485" fill="#00ff00" fill-opacity="0.41" stroke="#00ff00" stroke-width="1"/><rect x="620.5" y="-5" width="55.39999999999998" height="485" fill="#00ff00" fill-opacity="0.41" stroke="#00ff00" stroke-width="1"/><rect x="671.4" y="-5" width="33.60000000000002" height="485" fill="#00ff00" fill-opacity="0.41" stroke="#00ff00" stroke-width="1"/><rect x="723.7" y="-5" width="28.899999999999977" height="485" fill="#00ff00" fill-opacity="0.41" stroke="#00ff00" stroke-width="1"/><rect x="758.2" y="-5" width="30.299999999999955" height="485" fill="#00ff00" fill-opacity="0.2"/><rect x="788.5" y="-5" width="51.200000000000045" height="485" fill="#ff8000" fill-opacity="0.41" stroke="#ff8000" stroke-width="1"/><rect x="874.6" y="-5" width="38.69999999999993" height="485" fill="#ff8000" fill-opacity="0.41" stroke="#ff8000" stroke-width="1"/>
<polygon points="76.5,480.0 76.5,453.0 76.5,445.0 78.0,430.0 79.5,414.0 81.0,395.0 82.0,380.0 83.0,340.0 84.5,300.0 85.5,250.0 86.0,200.0 87.0,160.0 87.5,145.0 88.5,140.0 90.0,131.0 91.0,135.0 92.0,160.0 93.0,200.0 94.0,250.0 95.0,300.0 96.5,340.0 97.0,380.0 98.0,400.0 99.0,433.0 102.3,451.0 102.3,480.0" fill="#ff0000" fill-opacity="0.41" stroke="#ff0000" stroke-width="1"/><polygon points="89.5,480.0 89.5,451.0 95.5,440.0 97.5,420.0 98.5,400.0 99.0,380.0 100.5,362.0 103.0,356.0 105.5,340.0 108.0,327.0 110.0,320.0 111.5,316.0 114.0,326.0 116.0,350.0 117.5,370.0 119.0,400.0 121.5,425.0 124.2,440.0 129.2,451.4 129.2,480.0" fill="#00ff00" fill-opacity="0.41" stroke="#00ff00" stroke-width="1"/><polygon points="117.2,480.0 117.2,451.0 121.0,440.0 121.5,431.4 123.0,410.0 125.7,399.0 127.5,397.0 129.5,399.0 132.0,412.0 135.0,425.0 141.4,452.8 141.4,480.0" fill="#ff8000" fill-opacity="0.41" stroke="#ff8000" stroke-width="1"/>
</g>
<rect x="85.1" y="462.5" width="1.7" height="5.5" fill="#000"/><rect x="146.8" y="455.5" width="1.7" height="12.5" fill="#000"/><rect x="208.5" y="462.5" width="1.7" height="5.5" fill="#000"/><rect x="270.2" y="455.5" width="1.7" height="12.5" fill="#000"/><rect x="332.0" y="462.5" width="1.7" height="5.5" fill="#000"/><rect x="393.7" y="455.5" width="1.7" height="12.5" fill="#000"/><rect x="455.4" y="462.5" width="1.7" height="5.5" fill="#000"/><rect x="517.2" y="455.5" width="1.7" height="12.5" fill="#000"/><rect x="578.9" y="462.5" width="1.7" height="5.5" fill="#000"/><rect x="640.6" y="455.5" width="1.7" height="12.5" fill="#000"/><rect x="702.3" y="462.5" width="1.7" height="5.5" fill="#000"/><rect x="764.1" y="455.5" width="1.7" height="12.5" fill="#000"/><rect x="825.8" y="462.5" width="1.7" height="5.5" fill="#000"/><rect x="887.5" y="455.5" width="1.7" height="12.5" fill="#000"/>
<path d="M75.5,452.5 L76.5,444.3 L77.5,435.2 L78.0,429.3 L78.5,424.6 L79.5,413.8 L80.5,400.4 L81.0,395.0 L81.5,386.6 L82.0,379.9 L82.5,359.1 L83.0,339.2 L83.5,326.5 L84.5,300.7 L85.5,249.2 L86.0,199.4 L86.5,180.3 L87.0,160.9 L87.5,145.2 L88.5,139.8 L89.5,135.0 L90.0,130.1 L90.5,133.7 L91.0,134.6 L91.5,146.8 L92.0,159.2 L92.5,179.6 L93.0,200.6 L93.5,224.4 L94.0,250.2 L94.5,275.3 L95.0,299.7 L95.5,313.4 L96.5,339.1 L97.5,359.1 L98.0,369.4 L98.5,376.1 L98.7,377.9 L99.5,371.4 L100.5,364.2 L101.5,360.0 L102.3,356.6 L102.5,356.4 L103.5,350.4 L104.5,341.5 L105.0,338.1 L105.5,337.1 L106.5,335.8 L107.0,334.5 L107.5,331.4 L108.5,328.4 L108.6,326.2 L109.5,321.1 L110.0,318.5 L110.5,315.3 L111.0,314.0 L111.5,313.3 L112.5,315.1 L113.0,315.5 L113.5,320.6 L114.0,326.8 L114.5,332.6 L115.0,340.4 L115.5,346.4 L115.8,350.2 L116.5,356.9 L117.0,362.7 L117.5,373.3 L117.9,380.7 L118.5,386.8 L119.5,395.2 L119.6,397.4 L120.5,407.5 L121.2,416.8 L121.5,415.4 L122.5,408.9 L123.3,405.2 L123.5,405.2 L124.5,400.0 L125.5,396.9 L126.5,395.3 L127.1,394.5 L127.5,394.7 L128.5,397.0 L129.5,396.5 L129.8,397.0 L130.5,400.8 L131.4,406.6 L131.5,405.0 L132.5,410.5 L133.0,413.2 L133.5,415.7 L134.5,418.6 L135.2,420.8 L135.5,419.9 L136.5,422.6 L137.3,424.4 L137.5,426.4 L138.5,426.7 L139.5,423.2 L140.5,422.9 L140.6,423.1 L141.5,428.4 L142.5,434.5 L143.5,435.3 L144.5,434.5 L145.5,433.6 L146.5,435.5 L146.8,435.7 L147.5,436.6 L148.5,438.5 L149.5,437.9 L150.5,437.3 L151.5,437.8 L152.5,438.2 L153.5,435.9 L154.5,439.2 L155.3,439.3 L155.5,440.1 L156.5,441.5 L157.5,442.3 L158.5,444.0 L158.7,443.1 L159.5,445.0 L160.5,442.8 L161.5,442.4 L162.5,442.9 L163.5,442.6 L164.5,443.2 L165.5,442.1 L165.6,441.7 L166.5,443.8 L167.5,445.5 L167.7,446.9 L168.5,445.8 L169.5,449.4 L170.5,449.1 L171.5,447.3 L172.5,447.7 L172.8,448.2 L173.5,448.6 L174.5,448.0 L175.5,451.3 L176.5,452.7 L177.5,451.1 L178.5,451.3 L179.0,449.8 L179.5,449.7 L180.5,450.9 L181.5,450.9 L182.5,453.4 L183.5,451.2 L184.5,450.5 L185.3,454.3 L185.5,453.1 L186.5,451.1 L187.5,452.2 L188.5,450.0 L189.5,451.6 L190.4,453.4 L190.5,453.3 L191.5,452.6 L192.5,450.7 L193.5,450.8 L194.5,450.0 L195.5,452.4 L196.5,451.8 L197.5,452.7 L197.9,451.0 L198.5,449.9 L199.5,451.5 L200.5,451.9 L201.5,450.9 L202.5,449.9 L203.5,449.3 L204.5,448.3 L205.4,445.6 L205.5,446.4 L206.5,446.0 L207.5,444.7 L208.5,444.6 L209.5,445.7 L210.5,445.8 L211.5,448.0 L212.5,449.8 L213.5,448.3 L214.5,450.4 L215.5,451.3 L216.5,450.9 L217.5,448.1 L218.5,446.8 L219.5,446.4 L220.0,446.1 L220.5,446.2 L221.5,448.0 L222.5,449.5 L223.5,449.2 L224.5,438.8 L225.0,434.3 L225.5,431.6 L226.5,424.7 L226.6,424.9 L227.5,412.1 L228.0,404.6 L228.5,397.7 L229.5,383.6 L230.5,369.4 L231.5,348.8 L232.5,326.2 L232.8,320.6 L233.5,288.3 L234.3,249.8 L234.5,239.8 L235.3,200.9 L235.5,191.6 L236.2,159.3 L236.5,150.3 L237.0,135.3 L237.5,134.6 L238.5,130.1 L239.5,127.3 L240.5,127.2 L241.5,130.5 L242.0,131.3 L242.5,140.2 L243.0,150.1 L243.5,161.8 L244.0,174.0 L244.5,213.4 L245.0,250.3 L245.5,277.0 L246.3,320.9 L246.5,324.9 L247.5,350.7 L248.3,370.7 L248.5,372.5 L249.5,388.0 L250.5,403.6 L251.5,416.5 L252.4,428.5 L252.5,428.3 L253.5,430.9 L254.5,432.6 L255.5,437.3 L255.7,436.5 L256.5,439.2 L257.5,442.9 L258.0,445.5 L258.5,444.9 L259.5,448.3 L260.4,448.3 L260.5,448.2 L261.5,448.7 L262.5,447.1 L263.5,449.0 L264.5,448.7 L265.5,448.3 L266.0,451.7 L266.5,449.9 L267.5,451.3 L268.5,453.1 L269.5,453.1 L270.0,452.3 L270.5,452.6 L271.5,452.1 L272.5,452.4 L273.5,449.1 L274.5,449.8 L275.0,448.4 L275.5,448.5 L276.5,451.0 L277.5,450.6 L278.5,451.1 L279.5,452.4 L280.0,453.3 L280.5,451.5 L281.5,451.9 L282.5,451.5 L283.5,451.4 L284.5,452.1 L285.5,451.1 L286.5,451.3 L287.5,451.1 L288.5,452.9 L289.5,452.1 L290.0,452.7 L290.5,453.1 L291.5,450.5 L292.5,451.4 L293.5,453.2 L294.5,453.1 L295.5,450.3 L296.5,449.9 L297.5,451.3 L298.5,450.0 L299.5,450.6 L300.0,450.1 L300.5,452.4 L301.5,453.3 L302.5,453.9 L303.5,451.0 L304.5,452.9 L305.5,453.0 L306.5,450.9 L307.5,453.6 L308.5,454.4 L309.5,451.5 L310.5,454.1 L311.5,452.2 L312.5,452.4 L313.5,454.5 L314.5,454.2 L315.5,451.4 L316.5,452.1 L317.5,452.6 L318.5,452.0 L319.5,451.3 L320.0,451.8 L320.5,453.5 L321.5,451.0 L322.5,452.9 L323.5,452.9 L324.5,451.2 L325.5,452.3 L326.5,453.8 L327.5,453.7 L328.5,451.9 L329.5,455.5 L330.5,455.3 L331.5,456.2 L332.5,452.8 L333.5,453.1 L334.5,452.3 L335.5,455.3 L336.5,453.8 L337.5,453.1 L338.5,454.3 L339.5,456.5 L340.0,456.5 L340.5,454.2 L341.5,453.4 L342.5,456.3 L343.5,455.3 L344.5,455.6 L345.5,453.1 L346.5,452.5 L347.5,454.9 L348.5,454.2 L349.5,452.6 L350.5,455.8 L351.5,455.0 L352.5,455.5 L353.5,452.6 L354.5,455.2 L355.5,452.3 L356.5,455.1 L357.5,453.8 L358.5,453.0 L359.5,453.8 L360.0,455.4 L360.5,452.9 L361.5,452.1 L362.5,453.6 L363.5,452.7 L364.5,452.1 L365.5,452.2 L366.5,451.9 L367.5,452.5 L368.5,453.1 L369.5,453.2 L370.5,455.1 L371.5,453.5 L372.5,454.2 L373.5,453.0 L374.5,453.5 L375.5,452.3 L376.5,453.1 L377.5,452.4 L378.5,455.2 L379.5,454.9 L380.5,453.5 L381.5,454.5 L382.5,456.5 L383.5,453.5 L384.5,456.0 L385.5,454.8 L386.5,455.0 L387.5,456.4 L388.5,454.9 L389.5,455.2 L390.0,456.0 L390.5,457.3 L391.5,455.0 L392.5,456.7 L393.5,456.5 L394.5,456.2 L395.5,455.3 L396.5,455.0 L397.5,453.8 L398.5,454.0 L399.5,453.9 L400.5,456.6 L401.5,455.1 L402.5,454.6 L403.5,454.3 L404.5,457.3 L405.5,458.0 L406.5,457.3 L407.5,455.7 L408.5,455.4 L409.5,455.6 L410.5,456.4 L411.5,455.3 L412.5,456.4 L413.5,455.9 L414.5,458.7 L415.0,459.2 L415.5,457.5 L416.5,456.1 L417.5,458.8 L418.5,456.6 L419.5,456.5 L420.5,455.1 L421.5,456.4 L422.5,457.0 L423.5,457.3 L424.5,456.1 L425.5,457.2 L426.5,455.4 L427.5,456.2 L428.5,455.6 L429.5,456.8 L430.5,455.6 L431.5,455.3 L432.5,456.5 L433.5,456.4 L434.5,457.9 L435.5,457.9 L436.5,458.8 L437.5,458.6 L438.5,458.8 L439.5,459.6 L440.0,457.7 L440.5,457.1 L441.5,459.7 L442.5,456.7 L443.5,458.5 L444.5,458.5 L445.5,456.0 L446.5,458.8 L447.5,459.4 L448.5,458.4 L449.5,458.7 L450.5,459.0 L451.5,456.3 L452.5,457.4 L453.5,457.5 L454.5,458.8 L455.5,458.9 L456.5,459.0 L457.5,458.0 L458.5,459.0 L459.5,458.3 L460.5,458.2 L461.5,456.3 L462.5,455.2 L463.5,455.4 L464.5,456.3 L465.5,455.4 L466.5,458.2 L467.5,457.5 L468.5,457.6 L469.5,457.6 L470.0,457.8 L470.5,457.1 L471.5,455.0 L472.5,458.0 L473.5,458.3 L474.5,457.3 L475.5,457.3 L476.5,457.9 L477.5,455.6 L478.5,458.0 L479.5,456.4 L480.5,455.4 L481.5,456.1 L482.5,458.1 L483.5,456.3 L484.5,458.2 L485.5,459.5 L486.5,457.8 L487.5,457.1 L488.5,457.4 L489.5,458.3 L490.5,458.8 L491.5,458.3 L492.5,458.4 L493.5,456.1 L494.5,456.1 L495.5,456.5 L496.5,458.6 L497.5,457.1 L498.5,458.0 L499.5,455.9 L500.0,455.8 L500.5,456.6 L501.5,458.4 L502.5,458.8 L503.5,458.7 L504.5,457.2 L505.5,457.9 L506.5,457.7 L507.5,457.7 L508.5,456.3 L509.5,459.3 L510.5,456.9 L511.5,459.7 L512.5,459.9 L513.5,456.2 L514.5,457.5 L515.0,459.1 L515.5,459.7 L516.5,457.3 L517.5,455.7 L518.5,454.8 L519.5,457.3 L520.0,454.5 L520.5,455.0 L521.5,452.2 L522.5,452.3 L523.5,453.1 L524.5,448.9 L525.0,450.6 L525.5,449.2 L526.5,449.6 L527.5,448.0 L528.5,445.0 L529.5,446.4 L530.0,444.6 L530.5,442.1 L531.5,441.1 L532.5,442.3 L533.5,443.0 L534.5,443.0 L535.5,442.8 L536.5,444.1 L537.0,444.4 L537.5,447.1 L538.5,445.2 L539.5,448.9 L540.5,450.8 L541.5,449.1 L542.0,452.5 L542.5,452.5 L543.5,454.1 L544.5,452.6 L545.5,453.4 L546.5,454.4 L547.5,457.7 L548.0,456.9 L548.5,456.0 L549.5,456.6 L550.5,456.4 L551.5,455.9 L552.5,456.5 L553.5,459.9 L554.5,458.6 L555.0,461.3 L555.5,458.5 L556.5,457.6 L557.5,457.9 L558.5,456.1 L559.5,456.0 L560.0,458.2 L560.5,458.4 L561.5,458.5 L562.5,458.1 L563.5,459.5 L564.5,460.2 L565.0,458.8 L565.5,458.8 L566.5,455.2 L567.5,456.6 L568.5,454.9 L569.5,455.1 L570.0,454.3 L570.5,452.5 L571.5,450.6 L572.5,453.3 L573.5,449.8 L574.0,450.5 L574.5,449.3 L575.5,447.5 L576.5,447.4 L577.0,447.5 L577.5,443.7 L578.5,440.9 L579.0,438.2 L579.5,437.2 L580.5,433.8 L581.5,424.1 L582.5,410.9 L583.0,404.4 L583.5,400.2 L584.5,388.0 L585.5,376.2 L585.6,376.4 L586.5,360.1 L587.0,349.9 L587.5,340.5 L588.5,322.9 L588.7,319.2 L589.5,295.1 L590.0,279.2 L590.5,260.4 L591.0,241.3 L591.5,228.0 L592.5,200.8 L593.3,180.5 L593.5,171.8 L594.4,135.4 L594.5,132.3 L595.5,98.8 L596.5,92.7 L597.0,89.1 L597.5,87.8 L598.5,85.6 L598.7,83.3 L599.5,86.5 L600.0,88.3 L600.5,96.5 L600.7,98.3 L601.5,111.4 L602.0,119.5 L602.5,129.5 L602.8,135.5 L603.5,153.8 L604.5,178.2 L604.6,180.7 L605.5,209.0 L606.5,240.9 L607.5,274.4 L608.0,290.8 L608.5,311.4 L608.7,320.2 L609.5,353.2 L610.0,375.4 L610.5,383.8 L611.5,398.3 L612.0,405.7 L612.5,409.1 L613.5,414.9 L614.5,421.3 L615.5,438.0 L616.5,441.8 L617.5,445.4 L618.5,449.4 L619.5,453.8 L620.0,456.1 L620.5,457.0 L621.5,456.5 L622.5,456.4 L623.5,454.1 L624.5,456.5 L625.0,454.5 L625.5,456.1 L626.5,453.3 L627.0,451.2 L627.5,448.2 L628.5,443.8 L629.0,442.7 L629.5,440.8 L630.5,434.8 L631.5,430.6 L632.0,429.2 L632.5,423.4 L633.5,410.9 L634.0,404.4 L634.5,395.4 L635.5,374.6 L636.5,363.4 L637.5,351.9 L638.5,346.1 L639.5,338.7 L640.0,335.8 L640.5,331.2 L641.5,323.2 L642.0,319.5 L642.5,314.3 L643.5,300.4 L644.5,284.9 L645.0,277.0 L645.5,277.0 L646.5,275.3 L647.5,269.7 L648.5,264.3 L649.5,271.9 L650.0,275.9 L650.5,282.0 L651.0,289.1 L651.5,294.7 L652.5,304.8 L653.5,312.5 L654.5,318.7 L654.6,320.6 L655.5,328.4 L656.3,335.0 L656.5,337.7 L657.5,355.4 L658.5,370.4 L658.8,376.2 L659.5,381.2 L660.5,390.0 L661.0,395.5 L661.5,398.3 L662.5,407.0 L663.0,410.1 L663.5,412.1 L664.5,417.3 L665.5,422.9 L666.5,428.8 L667.0,432.4 L667.5,432.0 L668.5,436.1 L669.5,439.3 L670.0,443.2 L670.5,442.1 L671.5,443.0 L672.5,444.8 L673.3,447.8 L673.5,449.2 L674.5,445.2 L675.0,442.9 L675.5,441.9 L676.5,438.6 L677.5,433.6 L678.3,430.4 L678.5,431.7 L679.5,427.7 L680.0,423.8 L680.5,423.7 L681.5,419.9 L682.4,417.0 L682.5,416.4 L683.5,411.1 L684.5,405.8 L685.0,404.6 L685.5,403.5 L686.5,402.4 L687.5,398.3 L688.5,397.6 L688.8,395.4 L689.5,396.8 L690.5,399.4 L691.3,400.6 L691.5,400.5 L692.5,402.9 L693.5,406.7 L694.5,409.7 L694.7,412.0 L695.5,413.5 L696.5,418.0 L697.5,423.9 L698.0,423.8 L698.5,426.3 L699.5,431.0 L700.5,434.5 L701.5,439.1 L702.5,444.5 L703.0,447.5 L703.5,450.6 L704.5,449.9 L705.5,452.8 L706.5,454.8 L707.5,453.8 L707.6,453.3 L708.5,456.9 L709.5,456.9 L710.5,456.3 L711.5,459.0 L712.5,458.6 L712.8,458.5 L713.5,457.1 L714.5,459.6 L715.5,460.3 L716.5,459.0 L717.0,459.9 L717.5,456.2 L718.5,456.2 L719.5,457.0 L720.5,458.8 L721.5,458.9 L722.0,456.5 L722.5,455.1 L723.5,454.8 L724.5,454.2 L725.5,455.1 L726.4,451.5 L726.5,453.3 L727.5,450.4 L728.5,447.9 L729.5,445.2 L730.4,442.4 L730.5,441.1 L731.5,439.6 L732.5,438.5 L733.5,438.9 L734.5,435.1 L735.5,433.9 L735.8,435.8 L736.5,433.4 L737.5,431.5 L738.5,430.3 L739.5,431.5 L740.5,429.9 L740.9,432.2 L741.5,433.2 L742.5,435.4 L743.5,434.6 L743.9,434.4 L744.5,436.0 L745.5,439.8 L746.5,443.3 L746.6,442.9 L747.5,444.5 L748.5,447.4 L749.3,450.2 L749.5,450.8 L750.5,452.4 L751.5,454.1 L752.5,454.6 L753.5,453.5 L754.0,456.7 L754.5,455.5 L755.5,457.5 L756.5,458.1 L757.0,460.1 L757.5,457.8 L758.5,457.1 L759.5,456.4 L760.0,455.7 L760.5,456.8 L761.5,453.5 L762.0,451.3 L762.5,450.6 L763.5,451.8 L764.5,448.9 L765.0,447.0 L765.5,449.8 L766.5,450.9 L767.0,452.9 L767.5,448.9 L768.5,448.6 L769.5,448.9 L770.0,448.6 L770.5,449.3 L771.5,446.4 L772.5,447.6 L773.0,447.3 L773.5,447.8 L774.5,451.6 L775.5,451.1 L776.0,452.6 L776.5,450.7 L777.5,452.6 L778.5,451.4 L779.5,450.6 L780.0,452.7 L780.5,453.9 L781.5,451.1 L782.5,453.1 L783.5,453.9 L784.0,452.5 L784.5,453.5 L785.5,453.9 L786.5,455.2 L787.0,456.1 L787.5,457.1 L788.5,456.6 L789.5,453.9 L790.0,452.9 L790.5,451.6 L791.5,448.5 L792.0,445.2 L792.5,443.0 L793.5,438.1 L794.0,437.5 L794.5,434.7 L795.5,428.6 L796.4,424.3 L796.5,424.6 L797.5,419.9 L798.3,415.9 L798.5,412.2 L799.5,398.2 L800.5,385.2 L800.8,380.4 L801.5,373.3 L802.5,363.5 L802.9,360.9 L803.5,343.0 L804.5,315.8 L805.2,296.0 L805.5,290.0 L806.5,270.3 L807.5,250.1 L808.0,238.5 L808.5,230.3 L809.5,215.5 L810.5,181.7 L811.5,148.7 L811.6,147.2 L812.5,133.6 L812.6,133.0 L813.5,125.2 L813.7,124.6 L814.5,125.6 L815.5,127.3 L816.5,130.0 L817.0,132.5 L817.2,146.7 L817.5,163.1 L818.4,209.2 L818.5,212.3 L819.5,232.4 L819.8,238.8 L820.5,252.0 L821.5,272.1 L822.5,292.4 L822.7,297.2 L823.5,310.1 L824.5,329.0 L825.5,347.9 L826.2,360.9 L826.5,363.8 L827.5,378.4 L827.6,381.5 L828.5,390.0 L829.5,398.4 L830.2,404.1 L830.5,407.1 L831.0,408.9 L831.5,417.9 L832.5,433.9 L833.5,444.5 L834.0,448.5 L834.5,451.1 L835.5,453.2 L836.0,455.2 L836.5,457.4 L837.5,458.6 L838.5,456.9 L839.5,457.6 L840.0,458.8 L840.5,459.5 L841.5,459.3 L842.5,458.4 L843.5,459.0 L844.5,461.3 L845.0,462.4 L845.5,459.0 L846.5,460.3 L847.5,461.1 L848.5,458.1 L849.5,460.7 L850.0,458.0 L850.5,459.7 L851.5,460.0 L852.5,460.6 L853.5,459.6 L854.5,460.1 L855.0,461.0 L855.5,460.3 L856.5,460.9 L857.5,459.9 L858.5,459.5 L859.5,457.5 L860.0,459.6 L860.5,459.5 L861.5,458.7 L862.5,461.0 L863.5,461.6 L864.5,460.6 L865.0,459.4 L865.5,460.2 L866.5,458.5 L867.5,458.0 L868.5,458.8 L869.5,457.2 L870.0,458.3 L870.5,458.6 L871.5,456.3 L872.5,458.1 L873.5,455.7 L874.5,457.7 L875.0,458.0 L875.5,456.6 L876.5,453.8 L877.5,454.5 L878.0,453.8 L878.5,455.3 L879.5,450.7 L880.5,451.2 L881.5,447.7 L882.0,444.9 L882.5,443.7 L883.5,439.4 L884.0,440.1 L884.5,438.0 L885.5,437.2 L886.0,436.3 L886.5,432.2 L887.5,429.8 L888.0,428.5 L888.5,425.1 L889.5,423.5 L890.0,424.2 L890.5,421.1 L891.5,421.8 L892.0,418.7 L892.5,420.3 L893.5,417.8 L894.5,423.3 L895.0,427.5 L895.5,423.3 L896.5,420.2 L897.0,419.3 L897.5,418.5 L898.5,416.9 L899.0,417.1 L899.5,419.3 L900.5,425.1 L901.0,426.5 L901.5,428.7 L902.5,429.9 L903.0,433.0 L903.5,432.6 L904.5,436.1 L905.0,437.9 L905.5,438.8 L906.5,443.4 L907.0,444.3 L907.5,445.9 L908.5,449.9 L909.0,449.4 L909.5,452.7 L910.5,454.2 L911.5,455.4 L912.0,458.0 L912.5,456.6 L913.5,460.3 L914.5,460.1 L915.0,459.6 L915.5,461.3 L916.5,460.6 L917.5,459.7 L918.5,462.2 L919.5,460.1 L920.0,463.0 L920.5,461.2 L921.5,462.7 L922.5,464.4 L923.5,463.1 L924.5,463.4 L925.0,462.1 L925.5,460.3 L926.5,459.7 L927.5,459.6 L928.5,461.0 L929.5,460.0 L930.0,460.0 L930.5,461.7 L931.5,459.1 L932.5,459.3 L933.5,461.2 L934.5,459.1 L935.5,458.4 L936.5,459.5 L937.5,458.4 L938.5,459.0 L939.5,458.3 L940.5,459.4 L941.5,459.3 L942.5,457.5 L943.5,458.7 L944.5,458.0 L944.8,456.5 L945.5,459.7 L946.5,457.5 L947.5,456.9 L948.5,456.7 L949.5,459.0 L950.5,460.5 L951.0,460.4" fill="none" stroke="#000" stroke-width="3" stroke-linejoin="round"/>
<rect x="74.3" y="0" width="1.8" height="469.7" fill="#000"/>
<rect x="74.3" y="0" width="876.7" height="1.8" fill="#000"/>
<rect x="948.8" y="0" width="2.2" height="469.7" fill="#000"/>
<rect x="74.3" y="467.9" width="876.7" height="1.8" fill="#000"/>
<text x="148.4" y="502.8" text-anchor="middle" font-size="26">1</text><text x="271.9" y="502.8" text-anchor="middle" font-size="26">2</text><text x="395.3" y="502.8" text-anchor="middle" font-size="26">3</text><text x="518.8" y="502.8" text-anchor="middle" font-size="26">4</text><text x="642.2" y="502.8" text-anchor="middle" font-size="26">5</text><text x="765.6" y="502.8" text-anchor="middle" font-size="26">6</text><text x="889.1" y="502.8" text-anchor="middle" font-size="26">7</text>
<text x="513.5" y="550.4" text-anchor="middle" font-size="32">E (keV)</text>
<text transform="translate(23,219.7) rotate(-90)" text-anchor="middle" font-size="31.2">Intensity (arb. units)</text>
<g font-weight="bold">
<text x="81.8" y="110.8" fill="#ff0000" font-size="38">O</text>
<text x="218.2" y="107.6" fill="#0000ff" font-size="37.5">Si</text>
<text x="576" y="63.2" fill="#00ff00" font-size="36.5">La</text>
<text x="793" y="110" fill="#ff8000" font-size="37">Fe</text>
</g>
<g>
<rect x="268.5" y="6.5" width="295" height="280" fill="#414141" stroke="#383838" stroke-width="1"/>
<g clip-path="url(#insetclip)">
<g clip-path="url(#circclip)">
<rect x="268" y="6" width="296" height="281" fill="#000" filter="url(#noise)"/>
</g>
<ellipse cx="348.1" cy="14.5" rx="1.92" ry="1.68" fill="#fff" fill-opacity="0.99" filter="url(#blur1)"/><ellipse cx="415.3" cy="14.5" rx="1.68" ry="1.56" fill="#fff" fill-opacity="0.88" filter="url(#blur1)"/><ellipse cx="482.5" cy="14.5" rx="1.68" ry="1.56" fill="#fff" fill-opacity="0.88" filter="url(#blur1)"/><ellipse cx="314.5" cy="47.5" rx="1.80" ry="1.68" fill="#fff" fill-opacity="0.94" filter="url(#blur1)"/><ellipse cx="381.7" cy="47.5" rx="1.80" ry="1.68" fill="#fff" fill-opacity="0.94" filter="url(#blur1)"/><ellipse cx="516.1" cy="47.5" rx="1.68" ry="1.56" fill="#fff" fill-opacity="0.88" filter="url(#blur1)"/><ellipse cx="280.9" cy="80.5" rx="1.80" ry="1.68" fill="#fff" fill-opacity="0.94" filter="url(#blur1)"/><ellipse cx="348.1" cy="80.5" rx="1.92" ry="1.80" fill="#fff" fill-opacity="0.94" filter="url(#blur1)"/><ellipse cx="415.3" cy="80.5" rx="2.88" ry="1.80" fill="#fff" fill-opacity="1.00" filter="url(#blur1)"/><ellipse cx="482.5" cy="80.5" rx="1.80" ry="1.68" fill="#fff" fill-opacity="0.88" filter="url(#blur1)"/><ellipse cx="549.7" cy="80.5" rx="1.68" ry="1.56" fill="#fff" fill-opacity="0.88" filter="url(#blur1)"/><ellipse cx="314.5" cy="113.5" rx="1.80" ry="1.68" fill="#fff" fill-opacity="0.94" filter="url(#blur1)"/><ellipse cx="381.7" cy="113.5" rx="2.28" ry="2.04" fill="#fff" fill-opacity="1.00" filter="url(#blur1)"/><ellipse cx="448.9" cy="113.5" rx="2.28" ry="2.04" fill="#fff" fill-opacity="1.00" filter="url(#blur1)"/><ellipse cx="516.1" cy="113.5" rx="1.68" ry="1.56" fill="#fff" fill-opacity="0.88" filter="url(#blur1)"/><ellipse cx="280.9" cy="146.5" rx="1.68" ry="1.56" fill="#fff" fill-opacity="0.88" filter="url(#blur1)"/><ellipse cx="348.1" cy="146.5" rx="2.52" ry="2.28" fill="#fff" fill-opacity="1.00" filter="url(#blur1)"/><ellipse cx="482.5" cy="146.5" rx="2.40" ry="2.16" fill="#fff" fill-opacity="1.00" filter="url(#blur1)"/><ellipse cx="549.7" cy="146.5" rx="1.68" ry="1.56" fill="#fff" fill-opacity="0.77" filter="url(#blur1)"/><ellipse cx="314.5" cy="179.5" rx="1.68" ry="1.56" fill="#fff" fill-opacity="0.94" filter="url(#blur1)"/><ellipse cx="381.7" cy="179.5" rx="2.52" ry="2.28" fill="#fff" fill-opacity="1.00" filter="url(#blur1)"/><ellipse cx="448.9" cy="179.5" rx="2.16" ry="1.92" fill="#fff" fill-opacity="1.00" filter="url(#blur1)"/><ellipse cx="516.1" cy="179.5" rx="1.68" ry="1.56" fill="#fff" fill-opacity="0.88" filter="url(#blur1)"/><ellipse cx="280.9" cy="212.5" rx="1.68" ry="2.64" fill="#fff" fill-opacity="0.99" filter="url(#blur1)"/><ellipse cx="348.1" cy="212.5" rx="2.40" ry="2.28" fill="#fff" fill-opacity="1.00" filter="url(#blur1)"/><ellipse cx="415.3" cy="212.5" rx="2.88" ry="1.92" fill="#fff" fill-opacity="1.00" filter="url(#blur1)"/><ellipse cx="482.5" cy="212.5" rx="2.16" ry="1.92" fill="#fff" fill-opacity="0.99" filter="url(#blur1)"/><ellipse cx="549.7" cy="212.5" rx="1.68" ry="1.56" fill="#fff" fill-opacity="0.83" filter="url(#blur1)"/><ellipse cx="314.5" cy="245.5" rx="1.80" ry="1.68" fill="#fff" fill-opacity="0.94" filter="url(#blur1)"/><ellipse cx="381.7" cy="245.5" rx="1.80" ry="1.68" fill="#fff" fill-opacity="0.94" filter="url(#blur1)"/><ellipse cx="448.9" cy="245.5" rx="1.80" ry="1.68" fill="#fff" fill-opacity="0.88" filter="url(#blur1)"/><ellipse cx="516.1" cy="245.5" rx="1.68" ry="1.56" fill="#fff" fill-opacity="0.88" filter="url(#blur1)"/><ellipse cx="348.1" cy="278.5" rx="1.92" ry="1.80" fill="#fff" fill-opacity="0.94" filter="url(#blur1)"/><ellipse cx="415.3" cy="278.5" rx="2.04" ry="1.92" fill="#fff" fill-opacity="0.99" filter="url(#blur1)"/><ellipse cx="482.5" cy="278.5" rx="1.80" ry="1.68" fill="#fff" fill-opacity="0.88" filter="url(#blur1)"/>
</g>
<circle cx="414.2" cy="146.9" r="17.2" fill="#161616" stroke="#5e5e5e" stroke-width="2.6"/>
<circle cx="414.2" cy="146.9" r="19" fill="none" stroke="#505050" stroke-width="1.2" opacity="0.7"/>
<clipPath id="disc"><circle cx="414.2" cy="146.9" r="16"/></clipPath>
<g clip-path="url(#disc)"><ellipse cx="421" cy="154" rx="9" ry="8" fill="#b8b8b8" filter="url(#blur2)"/><ellipse cx="409" cy="158" rx="8" ry="4" fill="#555" filter="url(#blur2)"/></g>
<polygon points="436.7,6 476,6 456,50 450,53 448.4,60 424.7,131 419.5,146 410,146 412.8,131 433.3,60 435.5,53" fill="#3e3e3e"/>
<line x1="398.5" y1="153.9" x2="429.5" y2="141.5" stroke="#f0f0f0" stroke-width="1.8"/>
<rect x="412.5" y="144" width="5" height="5" fill="#d8d8d8"/>
<g stroke="#fff" stroke-width="4.2" fill="none" stroke-linecap="round" stroke-linejoin="round">
<line x1="412.9" y1="17" x2="412.9" y2="61"/>
<polyline points="404.6,30.8 412.9,16.5 421.1,30.8"/>
<line x1="508.5" y1="146.5" x2="545" y2="146.5"/>
<polyline points="531,139 545.5,146.5 531,154"/>
</g>
<g fill="#fff" font-weight="bold" font-size="32">
<text transform="translate(425.5,38.5) scale(0.87,1)">a</text>
<text x="444.3" y="41.6" font-size="43">*</text>
<text x="356.5" y="90">200</text>
<text x="504.5" y="36.3" font-size="31">hk0</text>
<text transform="translate(524.8,132.2) scale(0.88,1)" font-size="36">b</text>
<text x="545.5" y="134.6" font-size="43">*</text>
<text x="455.5" y="176.3">020</text>
</g>
</g>
</svg></body></html>
